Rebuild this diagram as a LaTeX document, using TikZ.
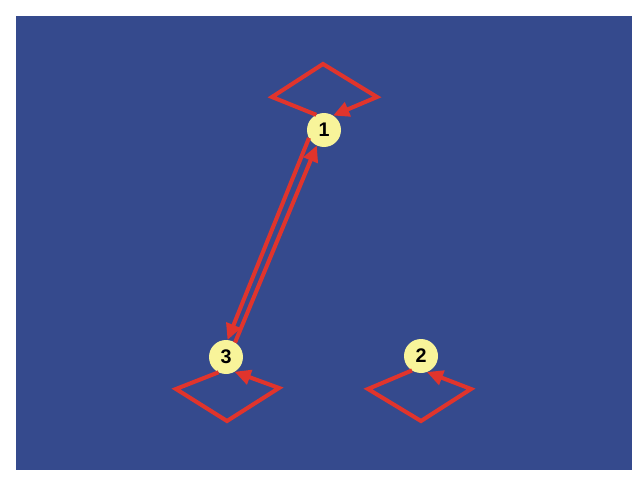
\documentclass[tikz,border=0pt]{standalone}
\usepackage{fontspec}
\setmainfont{Liberation Sans}
\usetikzlibrary{arrows.meta}
\definecolor{bgblue}{RGB}{53,74,141}
\definecolor{edgered}{RGB}{224,52,44}
\definecolor{nodeyellow}{RGB}{248,244,154}

\begin{document}
\begin{tikzpicture}[x=0.025cm,y=-0.025cm,
      every node/.style={font=\fontsize{14}{14}\selectfont\bfseries},
      state/.style={circle,fill=nodeyellow,minimum size=34*0.025cm,inner sep=0pt,outer sep=0pt},
      edge/.style={draw=edgered,line width=2.9pt,miter limit=10,
        -{Triangle[length=11.5pt,width=10.5pt]}}]
      \useasboundingbox (0,0) rectangle (640,480);
      \fill[bgblue] (16,16) rectangle (632,470);
      \node[state] (v1) at (324,130) {1};
      \node[state] (v2) at (421,356) {2};
      \node[state] (v3) at (226,357) {3};
      \draw[edge] (v1.208) -- (v3.85);
      \draw[edge] (v3.58) -- (v1.245);
      \draw[edge] (v1.117) -- (272,97) -- (323,64) -- (377,97) -- (v1.58);
      \draw[edge] (v3.244) -- (176,389) -- (227,421) -- (279,388) -- (v3.300);
      \draw[edge] (v2.238) -- (368,389) -- (421,421) -- (471,389) -- (v2.290);
    \end{tikzpicture}
\end{document}
